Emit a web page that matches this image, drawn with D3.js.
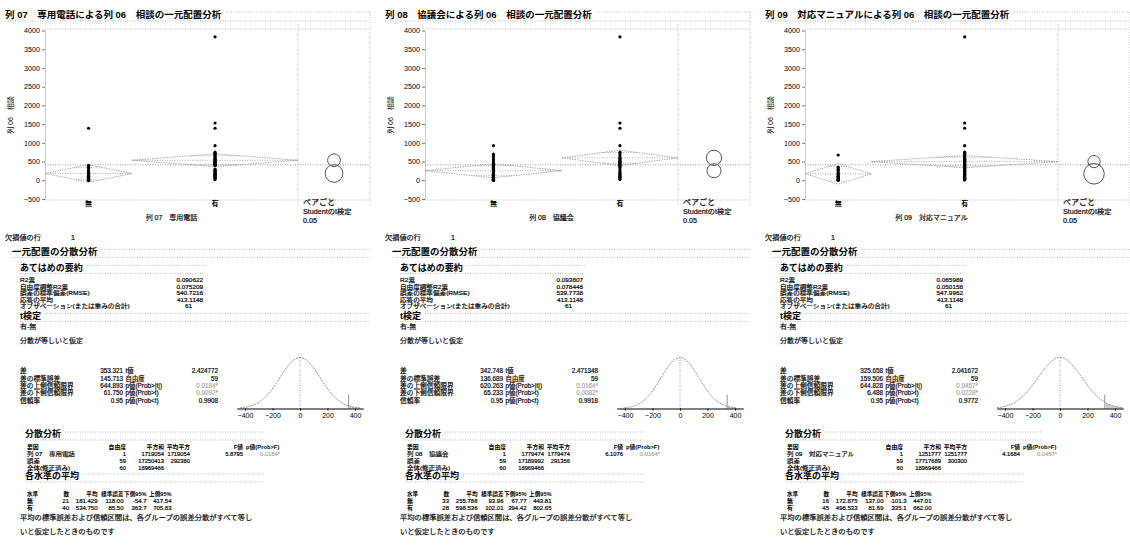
<!DOCTYPE html>
<html>
<head>
<meta charset="utf-8">
<script src="https://cdn.jsdelivr.net/npm/d3@7"></script>
<style>
  body { margin: 0; background: #fff; }
  svg text { font-family: "Liberation Sans", "Noto Sans CJK JP", sans-serif; fill: #000; }
</style>
</head>
<body>
<svg id="chart" width="1130" height="550"></svg>
<script>
// ---- data ----
const levels = ["無", "有"];
const panelTitles = ["列 07　専用電話による列 06　相談の一元配置分析",
                     "列 08　協議会による列 06　相談の一元配置分析",
                     "列 09　対応マニュアルによる列 06　相談の一元配置分析"];
const xTitles = ["列 07　専用電話", "列 08　協議会", "列 09　対応マニュアル"];
const yTitle = "列 06　相談";
const yTicks = [-500, 0, 500, 1000, 1500, 2000, 2500, 3000, 3500, 4000];
const curveTicks = [-400, -200, 0, 200, 400];

// individual 列06 values per group (estimated from the dot columns)
const vals07None = [1390, 400, 350, 300, 250, 220, 200, 180, 150, 130, 110, 100, 80, 60, 50, 40, 30, 20, 10, 0, 0];
const vals07Yes = [3830, 1530, 1390, 925, 750, 720, 700, 680, 650, 620, 600, 580, 560, 540, 520, 500, 500, 480, 460, 450,
                   440, 420, 400, 400, 300, 280, 260, 240, 220, 200, 180, 160, 150, 140, 120, 100, 80, 60, 40, 20];
const vals08None = [925, 700, 650, 600, 550, 500, 450, 420, 400, 380, 350, 320, 300, 280, 250, 230, 200, 180, 160, 150,
                    130, 120, 100, 90, 80, 60, 50, 40, 30, 20, 10, 0, 0];
const vals08Yes = [3830, 1530, 1390, 925, 750, 700, 650, 600, 580, 550, 520, 500, 480, 450, 420, 400, 380, 350, 300, 250,
                   200, 180, 150, 120, 100, 80, 50, 20];
const vals09None = [675, 350, 300, 280, 250, 200, 180, 150, 120, 100, 80, 60, 40, 20, 10, 0];
const vals09Yes = [3830, 1530, 1390, 925, 750, 720, 700, 680, 650, 620, 600, 580, 560, 540, 520, 500, 480, 460, 440, 420,
                   400, 400, 380, 360, 340, 320, 300, 280, 260, 240, 220, 200, 180, 160, 150, 140, 120, 100, 80, 60,
                   50, 40, 30, 20, 10];

const grandMean = 413.1148;
const missingRows = "1";

const fitLabels = ["R2乗", "自由度調整R2乗", "誤差の標準偏差(RMSE)", "応答の平均", "オブザベーション(または重みの合計)"];
const fit07 = ["0.090622", "0.075209", "540.7216", "413.1148", "61"];
const fit08 = ["0.093807", "0.078448", "539.7738", "413.1148", "61"];
const fit09 = ["0.065989", "0.050158", "547.9962", "413.1148", "61"];

const tLabelsL = ["差", "差の標準誤差", "差の上側信頼限界", "差の下側信頼限界", "信頼率"];
const tLabelsR = ["t値", "自由度", "p値(Prob>|t|)", "p値(Prob>t)", "p値(Prob<t)"];
const tLeft07 = ["353.321", "145.713", "644.893", "61.750", "0.95"];
const tRight07 = ["2.424772", "59", "0.0184*", "0.0092*", "0.9908"];
const tLeft08 = ["342.748", "136.689", "620.263", "65.233", "0.95"];
const tRight08 = ["2.471348", "59", "0.0164*", "0.0082*", "0.9918"];
const tLeft09 = ["325.658", "159.506", "644.828", "6.488", "0.95"];
const tRight09 = ["2.041672", "59", "0.0457*", "0.0228*", "0.9772"];

const anovaHead = ["要因", "自由度", "平方和", "平均平方", "F値", "p値(Prob>F)"];
const anova07 = [["列 07　専用電話", "1", "1719054", "1719054", "5.8795", "0.0184*"],
                 ["誤差", "59", "17250413", "292380", "", ""],
                 ["全体(修正済み)", "60", "18969466", "", "", ""]];
const anova08 = [["列 08　協議会", "1", "1779474", "1779474", "6.1076", "0.0164*"],
                 ["誤差", "59", "17189992", "291356", "", ""],
                 ["全体(修正済み)", "60", "18969466", "", "", ""]];
const anova09 = [["列 09　対応マニュアル", "1", "1251777", "1251777", "4.1684", "0.0457*"],
                 ["誤差", "59", "17717689", "300300", "", ""],
                 ["全体(修正済み)", "60", "18969466", "", "", ""]];

const meansHead = ["水準", "数", "平均", "標準誤差", "下側95%", "上側95%"];
const means07 = [["無", "21", "181.429", "118.00", "-54.7", "417.54"],
                 ["有", "40", "534.750", "85.50", "363.7", "705.83"]];
const means08 = [["無", "33", "255.788", "93.96", "67.77", "443.81"],
                 ["有", "28", "598.536", "102.01", "394.42", "802.65"]];
const means09 = [["無", "16", "172.875", "137.00", "-101.3", "447.01"],
                 ["有", "45", "498.533", "81.69", "335.1", "662.00"]];

const footnote = ["平均の標準誤差および信頼区間は、各グループの誤差分散がすべて等し",
                  "いと仮定したときのものです"];

// ---- drawing ----
const svg = d3.select("#chart");
const panelX = [0, 380, 760];
const anovaShift = [0, 0, 17];
const panels = [
  {title: panelTitles[0], xTitle: xTitles[0], vals: [vals07None, vals07Yes], fit: fit07, tL: tLeft07, tR: tRight07, anova: anova07, means: means07},
  {title: panelTitles[1], xTitle: xTitles[1], vals: [vals08None, vals08Yes], fit: fit08, tL: tLeft08, tR: tRight08, anova: anova08, means: means08},
  {title: panelTitles[2], xTitle: xTitles[2], vals: [vals09None, vals09Yes], fit: fit09, tL: tLeft09, tR: tRight09, anova: anova09, means: means09}
];

const LAB = 6.4;   // row label size
const NUM = 6.3;   // number size

function txt(g, x, y, s, o = {}) {
  const col = o.fill || "#000";
  const t = g.append("text")
    .attr("transform", `translate(${x},${y}) scale(${o.sx || 1},1)`)
    .attr("text-anchor", o.anchor || "start")
    .style("font-size", (o.size || LAB) + "px")
    .style("fill", col)
    .style("stroke", col).style("stroke-width", o.bold ? 0 : 0.18)
    .text(s);
  if (o.bold) t.style("font-weight", "bold");
  return t;
}

function dotted(g, x1, y1, x2, y2, col) {
  g.append("line")
    .attr("x1", x1).attr("y1", y1).attr("x2", x2).attr("y2", y2)
    .attr("stroke", col || "#aaa").attr("stroke-width", 0.8)
    .attr("stroke-dasharray", "1,1.5");
}

// outline header: bold title, dotted line to its right and one below
function header(g, x, y, s, right, size) {
  const t = txt(g, x, y + 3, s, {size: size || 9, bold: true});
  const w = t.node().getComputedTextLength();
  dotted(g, x + w + 4, y - 2, right, y - 2);
  dotted(g, x, y + 6, right, y + 6);
}

function drawPanel(g, p, shift) {
  const y = d3.scaleLinear().domain([-500, 4000]).range([199, 30.5]);
  const ns = p.means.map(r => +r[1]);
  const total = d3.sum(ns);
  const xs = d3.scaleLinear().domain([0, total]).range([45, 298]);
  const cum = [0, ns[0], total];

  // title
  const tt = txt(g, 5, 18, p.title, {size: 9.5, bold: true});
  dotted(g, 5 + tt.node().getComputedTextLength() + 5, 12, 370, 12);
  dotted(g, 5, 21, 370, 21);

  // frame
  dotted(g, 45, 29, 370, 29);
  dotted(g, 45, 200, 370, 200);
  dotted(g, 298, 24, 298, 206);
  dotted(g, 370, 12, 370, 206);

  // y axis
  const ya = g.append("g").attr("transform", "translate(45,0)")
    .call(d3.axisLeft(y).tickValues(yTicks).tickFormat(d3.format("d"))
      .tickSize(3).tickSizeOuter(0).tickPadding(2));
  ya.select(".domain").attr("stroke", "#999").attr("stroke-dasharray", "1,1");
  ya.selectAll(".tick line").attr("stroke", "#777");
  ya.selectAll(".tick text").style("font-size", "7.2px").attr("fill", "#000");

  g.append("text")
    .attr("transform", `translate(13,115) rotate(-90)`)
    .attr("text-anchor", "middle").style("font-size", "7px").text(yTitle);

  // grand mean
  dotted(g, 45, y(grandMean), 370, y(grandMean), "#888");

  // means diamonds and points
  p.means.forEach((r, i) => {
    const m = +r[2], lo = +r[4], hi = +r[5];
    const x0 = xs(cum[i]), x1 = xs(cum[i + 1]), xc = (x0 + x1) / 2;
    g.append("path")
      .attr("d", `M${x0},${y(m)}L${xc},${y(hi)}L${x1},${y(m)}L${xc},${y(lo)}Z`)
      .attr("fill", "none").attr("stroke", "#999").attr("stroke-width", 0.8)
      .attr("stroke-dasharray", "1.5,1");
    dotted(g, x0, y(m), x1, y(m), "#999");
    const h = (hi - lo) / 2 / Math.SQRT2;
    const hw = (x1 - x0) / 2 * (1 - 1 / Math.SQRT2);
    [m + h, m - h].forEach(v => dotted(g, xc - hw, y(v), xc + hw, y(v), "#999"));

    g.append("g").selectAll("circle")
      .data(p.vals[i])
      .join("circle")
        .attr("cx", xc)
        .attr("cy", d => y(d))
        .attr("r", 1.6)
        .attr("fill", "#000");

    txt(g, xc, 206, levels[i], {size: 7, anchor: "middle", bold: true});

    // comparison circle
    const half = (hi - lo) / 2;
    g.append("circle")
      .attr("cx", 334).attr("cy", y(m))
      .attr("r", y(m) - y(m + half))
      .attr("fill", "none").attr("stroke", "#555").attr("stroke-width", 1);
  });

  txt(g, 171.5, 219.5, p.xTitle, {size: 7, anchor: "middle"});
  txt(g, 303, 205, "ペアごと", {size: 8});
  txt(g, 303, 214, "Studentのt検定", {size: 7.2});
  txt(g, 303, 223, "0.05", {size: 7.2});

  // missing rows
  txt(g, 5, 239.5, "欠損値の行", {size: 7.2});
  txt(g, 73, 239.5, missingRows, {size: 7.2, anchor: "middle"});

  header(g, 12, 251.5, "一元配置の分散分析", 370, 9.5);
  header(g, 20, 267.5, "あてはめの要約", 205, 9);

  const fitY = [280, 286.5, 293, 299.5, 306];
  fitLabels.forEach((l, i) => {
    txt(g, 20, fitY[i] + 2.2, l, {size: 5.9, sx: 1.12});
    txt(g, i === 4 ? 192 : 203, fitY[i] + 2.2, p.fit[i], {size: 5.9, sx: 1.08, anchor: "end"});
  });

  header(g, 20, 315.5, "t検定", 370, 9);
  txt(g, 20, 329, "有-無", {size: 7});
  txt(g, 20, 342.5, "分散が等しいと仮定", {size: 7});

  const tY = [371, 378.3, 385.6, 392.9, 400.2];
  tLabelsL.forEach((l, i) => {
    txt(g, 20, tY[i] + 2.4, l, {size: LAB, sx: 1.05});
    txt(g, 123, tY[i] + 2.4, p.tL[i], {size: NUM, anchor: "end"});
    txt(g, 125.5, tY[i] + 2.4, tLabelsR[i], {size: LAB});
    const sig = p.tR[i].endsWith("*");
    txt(g, 218, tY[i] + 2.4, p.tR[i], {size: NUM, anchor: "end", fill: sig ? "#aaa" : null});
  });

  // t distribution of the difference
  const diff = +p.tL[0], se = +p.tL[1];
  const cx = d3.scaleLinear().domain([-460, 460]).range([236.75, 363.25]);
  const base = 408.5, peak = 51;
  const lim = Math.min(3 * se, 460);
  const pts = d3.range(-lim, lim + 0.1, lim / 40).map(v => [v, Math.exp(-(v / se) * (v / se) / 2)]);
  const tail = pts.filter(d => d[0] >= diff);
  g.append("path")
    .attr("d", d3.area().x(d => cx(d[0])).y0(base).y1(d => base - peak * d[1])(tail))
    .attr("fill", "#ccc");
  g.append("path")
    .attr("d", d3.line().x(d => cx(d[0])).y(d => base - peak * d[1])(pts))
    .attr("fill", "none").attr("stroke", "#777").attr("stroke-width", 0.8)
    .attr("stroke-dasharray", "2,1");
  dotted(g, cx(0), base, cx(0), base - peak, "#888");
  g.append("line")
    .attr("x1", cx(diff)).attr("x2", cx(diff)).attr("y1", base).attr("y2", base - 14)
    .attr("stroke", "#777").attr("stroke-width", 0.8);
  const ca = g.append("g").attr("transform", `translate(0,${base})`)
    .call(d3.axisBottom(cx).tickValues(curveTicks).tickSize(2).tickSizeOuter(0).tickPadding(3));
  ca.select(".domain").attr("stroke", "#000");
  ca.selectAll(".tick text").style("font-size", "7px").attr("fill", "#000");

  // analysis of variance
  header(g, 25, 434, "分散分析", 265 + shift, 9);
  const aRight = [126, 164, 190, 243].map(v => v + shift);
  const aY = [447, 454, 460.7, 467.4];
  txt(g, 27, aY[0] + 2.2, anovaHead[0], {size: 5.8, bold: true});
  aRight.forEach((x, j) => txt(g, x, aY[0] + 2.2, anovaHead[j + 1], {size: 5.8, anchor: "end", bold: true}));
  txt(g, 246 + shift, aY[0] + 2.2, anovaHead[5], {size: 5.8, bold: true});
  p.anova.forEach((r, i) => {
    txt(g, 27, aY[i + 1] + 2.2, r[0], {size: 5.9, sx: 1.1});
    aRight.forEach((x, j) => txt(g, x, aY[i + 1] + 2.2, r[j + 1], {size: 5.8, anchor: "end"}));
    if (r[5]) txt(g, 280 + shift, aY[i + 1] + 2.2, r[5], {size: 5.8, anchor: "end", fill: "#aaa"});
  });

  // means per level
  header(g, 25, 476, "各水準の平均", 265, 9);
  const mRight = [69, 97.5, 123.5, 146.5, 171.5];
  const mY = [494, 501, 508];
  txt(g, 27, mY[0] + 2.2, meansHead[0], {size: 5.6, bold: true});
  mRight.forEach((x, j) => txt(g, x, mY[0] + 2.2, meansHead[j + 1], {size: 5.6, anchor: "end", bold: true}));
  p.means.forEach((r, i) => {
    txt(g, 27, mY[i + 1] + 2.2, r[0], {size: 6, bold: true});
    mRight.forEach((x, j) => txt(g, x, mY[i + 1] + 2.2, r[j + 1], {size: 6, anchor: "end"}));
  });

  txt(g, 20, 519.5, footnote[0], {size: 7.3});
  txt(g, 20, 533.5, footnote[1], {size: 7.3});
}

panels.forEach((p, i) => {
  drawPanel(svg.append("g").attr("transform", `translate(${panelX[i]},0)`), p, anovaShift[i]);
});
</script>
</body>
</html>
